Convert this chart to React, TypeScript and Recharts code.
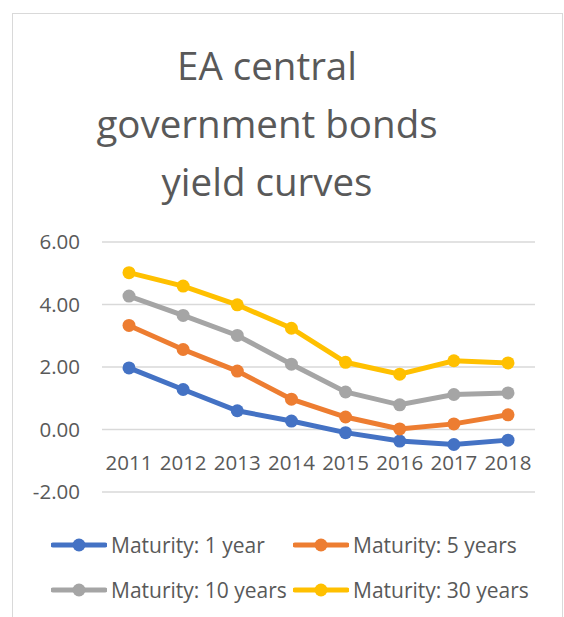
import React from 'react';
import { LineChart, Line, XAxis, YAxis, CartesianGrid, Legend } from 'recharts';

const years = ['2011', '2012', '2013', '2014', '2015', '2016', '2017', '2018'];
const maturity1 = [1.97, 1.28, 0.6, 0.27, -0.1, -0.37, -0.48, -0.34];
const maturity5 = [3.33, 2.56, 1.87, 0.97, 0.4, 0.02, 0.18, 0.47];
const maturity10 = [4.27, 3.65, 3.01, 2.09, 1.2, 0.79, 1.12, 1.17];
const maturity30 = [5.02, 4.59, 3.99, 3.24, 2.15, 1.77, 2.2, 2.13];
const yTicks = [-2, 0, 2, 4, 6];

const series = [
  { key: 'm1', name: 'Maturity: 1 year', color: '#4472C4', values: maturity1 },
  { key: 'm5', name: 'Maturity: 5 years', color: '#ED7D31', values: maturity5 },
  { key: 'm10', name: 'Maturity: 10 years', color: '#A5A5A5', values: maturity10 },
  { key: 'm30', name: 'Maturity: 30 years', color: '#FFC000', values: maturity30 },
];

const data = years.map((year, i) => {
  const row: any = { year };
  series.forEach((s) => {
    row[s.key] = s.values[i];
  });
  return row;
});

const FONT = '"Open Sans", "Liberation Sans", sans-serif';
const TEXT = '#595959';

const LegendBox = () => (
  <div style={{ fontFamily: FONT, fontSize: 21, color: TEXT }}>
    {[0, 2].map((start) => (
      <div key={start} style={{ display: 'flex', height: 45, alignItems: 'center' }}>
        {series.slice(start, start + 2).map((s) => (
          <div key={s.key} style={{ display: 'flex', alignItems: 'center', width: 242 }}>
            <svg width={56} height={16}>
              <line x1={2} y1={8} x2={54} y2={8} stroke={s.color} strokeWidth={5} strokeLinecap="round" />
              <circle cx={28} cy={8} r={6.5} fill={s.color} />
            </svg>
            <span style={{ marginLeft: 4, whiteSpace: 'nowrap' }}>{s.name}</span>
          </div>
        ))}
      </div>
    ))}
  </div>
);

export default function App() {
  return (
    <div style={{ position: 'absolute', left: 0, top: 0, width: 564, height: 617, overflow: 'hidden', background: '#fff' }}>
      <div
        style={{
          position: 'absolute',
          left: 12,
          top: 13,
          width: 551,
          height: 700,
          border: '1.5px solid #d9d9d9',
          boxSizing: 'border-box',
        }}
      />
      <div
        style={{
          position: 'absolute',
          left: 12,
          top: 36,
          width: 510,
          textAlign: 'center',
          fontFamily: FONT,
          fontSize: 38.5,
          lineHeight: '58px',
          color: TEXT,
        }}
      >
        EA central
        <br />
        government bonds
        <br />
        yield curves
      </div>
      <div style={{ position: 'absolute', left: 0, top: 0 }}>
        <LineChart
          width={564}
          height={617}
          data={data}
          margin={{ top: 242, right: 29, left: 22, bottom: 95 }}
          style={{ fontFamily: FONT }}
        >
          <CartesianGrid vertical={false} stroke="#d9d9d9" strokeWidth={1.5} />
          <XAxis
            dataKey="year"
            height={30}
            axisLine={false}
            tickLine={false}
            padding={{ left: 27, right: 27 }}
            interval={0}
            tick={{ fill: TEXT, fontSize: 20.5, dy: -45 }}
          />
          <YAxis
            width={80}
            domain={[-2, 6]}
            ticks={yTicks}
            axisLine={false}
            tickLine={false}
            tickFormatter={(v: number) => v.toFixed(2)}
            tick={{ fill: TEXT, fontSize: 20.5, dx: -14 }}
          />
          <Legend
            layout="horizontal"
            verticalAlign="middle"
            align="center"
            wrapperStyle={{ left: 51, top: 522, width: 510 }}
            content={() => <LegendBox />}
          />
          {series.map((s) => (
            <Line
              key={s.key}
              type="linear"
              dataKey={s.key}
              name={s.name}
              stroke={s.color}
              strokeWidth={5}
              dot={{ r: 6.5, fill: s.color, stroke: s.color, strokeWidth: 0 }}
              activeDot={false}
              isAnimationActive={false}
            />
          ))}
        </LineChart>
      </div>
    </div>
  );
}
